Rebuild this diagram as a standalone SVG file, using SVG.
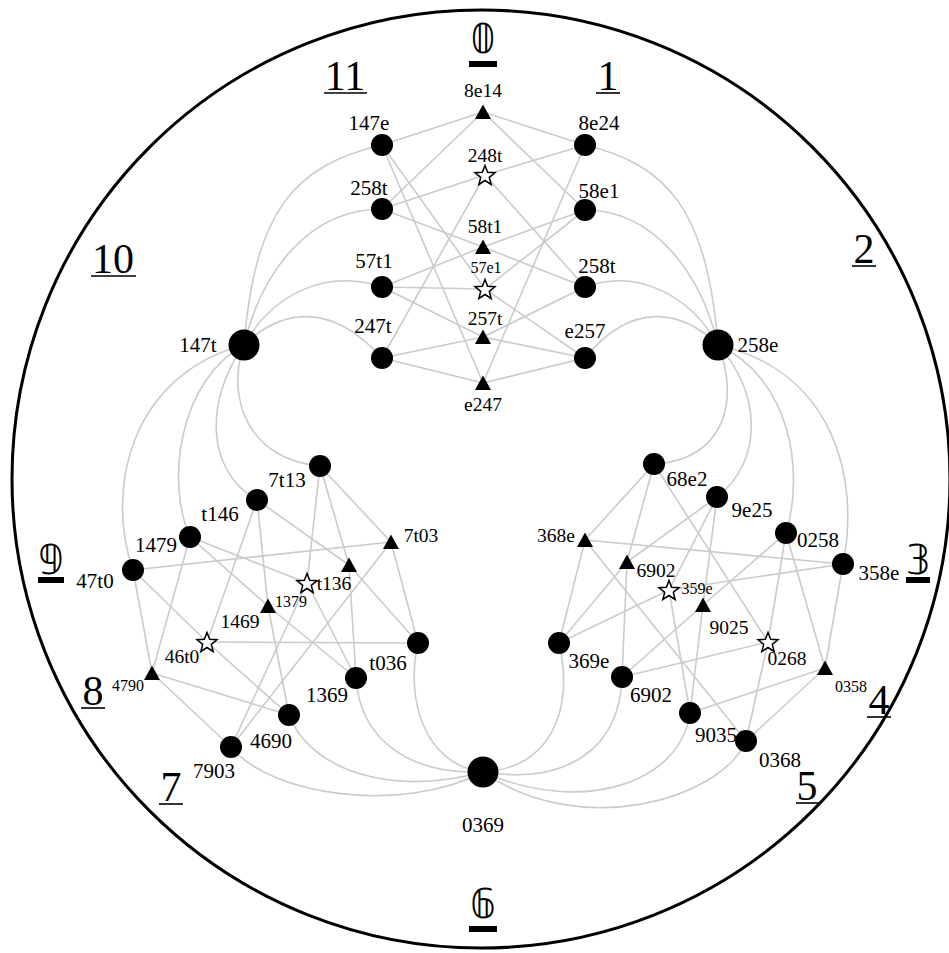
<svg xmlns="http://www.w3.org/2000/svg" width="949" height="953" viewBox="0 0 949 953">
<style>
.e{stroke:#cbcbcb;stroke-width:1.6;fill:none}
.s{fill:#fff;stroke:#000;stroke-width:1.5}
text{font-family:"Liberation Serif","Times New Roman",serif;fill:#000;text-anchor:middle}
.l{font-family:"Liberation Serif","Times New Roman",serif;font-size:21px}
.m{font-family:"Liberation Serif","Times New Roman",serif;font-size:19.5px}
.k{font-family:"Liberation Serif","Times New Roman",serif;font-size:16px}
.h{font-family:"Liberation Serif","Times New Roman",serif;font-size:42px}
.hd{font-family:"DejaVu Sans","DejaVu Serif",sans-serif;font-size:40px}
.u{stroke:#000;stroke-width:1.6}
</style>
<defs>
<path id="tri" d="M0,-8.5 L8,6 L-8,6 Z"/>
<path id="star" d="M0,-10.5 L2.645,-3.641 L9.986,-3.245 L4.280,1.391 L6.172,8.495 L0,4.5 L-6.172,8.495 L-4.280,1.391 L-9.986,-3.245 L-2.645,-3.641 Z"/>
</defs>
<rect width="949" height="953" fill="#fff"/>
<circle id="frame" cx="481" cy="479" r="469" fill="none" stroke="#000" stroke-width="3"/>

<g id="connectors" class="e">
<!-- top group -->
<line x1="483" y1="112" x2="382" y2="145"/>
<line x1="483" y1="112" x2="585" y2="145"/>
<line x1="483" y1="112" x2="382" y2="209"/>
<line x1="483" y1="112" x2="585" y2="210"/>
<line x1="485" y1="175" x2="585" y2="145"/>
<line x1="485" y1="175" x2="382" y2="209"/>
<line x1="485" y1="175" x2="585" y2="287"/>
<line x1="485" y1="175" x2="382" y2="358"/>
<line x1="483" y1="247" x2="382" y2="209"/>
<line x1="483" y1="247" x2="585" y2="210"/>
<line x1="483" y1="247" x2="382" y2="287"/>
<line x1="483" y1="247" x2="585" y2="287"/>
<line x1="485" y1="289" x2="382" y2="145"/>
<line x1="485" y1="289" x2="585" y2="210"/>
<line x1="485" y1="289" x2="382" y2="287"/>
<line x1="485" y1="289" x2="585" y2="358"/>
<line x1="483" y1="337" x2="382" y2="287"/>
<line x1="483" y1="337" x2="585" y2="287"/>
<line x1="483" y1="337" x2="382" y2="358"/>
<line x1="483" y1="337" x2="585" y2="358"/>
<line x1="483" y1="383" x2="382" y2="145"/>
<line x1="483" y1="383" x2="585" y2="145"/>
<line x1="483" y1="383" x2="382" y2="358"/>
<line x1="483" y1="383" x2="585" y2="358"/>
<!-- left cluster -->
<line x1="391" y1="542" x2="320" y2="466"/>
<line x1="391" y1="542" x2="133" y2="570"/>
<line x1="391" y1="542" x2="418" y2="643"/>
<line x1="391" y1="542" x2="231" y2="747"/>
<line x1="349" y1="565" x2="320" y2="466"/>
<line x1="349" y1="565" x2="257" y2="500"/>
<line x1="349" y1="565" x2="356" y2="678"/>
<line x1="349" y1="565" x2="418" y2="643"/>
<line x1="268" y1="606" x2="257" y2="500"/>
<line x1="268" y1="606" x2="190" y2="537"/>
<line x1="268" y1="606" x2="356" y2="678"/>
<line x1="268" y1="606" x2="289" y2="715"/>
<line x1="152" y1="673" x2="190" y2="537"/>
<line x1="152" y1="673" x2="133" y2="570"/>
<line x1="152" y1="673" x2="289" y2="715"/>
<line x1="152" y1="673" x2="231" y2="747"/>
<line x1="307" y1="583" x2="320" y2="466"/>
<line x1="307" y1="583" x2="190" y2="537"/>
<line x1="307" y1="583" x2="356" y2="678"/>
<line x1="307" y1="583" x2="231" y2="747"/>
<line x1="207" y1="642" x2="257" y2="500"/>
<line x1="207" y1="642" x2="133" y2="570"/>
<line x1="207" y1="642" x2="289" y2="715"/>
<line x1="207" y1="642" x2="418" y2="643"/>
<!-- right cluster -->
<line x1="585" y1="540" x2="654" y2="464"/>
<line x1="585" y1="540" x2="843" y2="564"/>
<line x1="585" y1="540" x2="559" y2="643"/>
<line x1="585" y1="540" x2="746" y2="741"/>
<line x1="627" y1="562" x2="654" y2="464"/>
<line x1="627" y1="562" x2="717" y2="497"/>
<line x1="627" y1="562" x2="559" y2="643"/>
<line x1="627" y1="562" x2="622" y2="677"/>
<line x1="669" y1="590" x2="717" y2="497"/>
<line x1="669" y1="590" x2="843" y2="564"/>
<line x1="669" y1="590" x2="559" y2="643"/>
<line x1="669" y1="590" x2="690" y2="713"/>
<line x1="703" y1="605" x2="717" y2="497"/>
<line x1="703" y1="605" x2="786" y2="533"/>
<line x1="703" y1="605" x2="622" y2="677"/>
<line x1="703" y1="605" x2="690" y2="713"/>
<line x1="768" y1="642" x2="654" y2="464"/>
<line x1="768" y1="642" x2="786" y2="533"/>
<line x1="768" y1="642" x2="622" y2="677"/>
<line x1="768" y1="642" x2="746" y2="741"/>
<line x1="825" y1="668" x2="786" y2="533"/>
<line x1="825" y1="668" x2="843" y2="564"/>
<line x1="825" y1="668" x2="690" y2="713"/>
<line x1="825" y1="668" x2="746" y2="741"/>
<!-- arcs from 147t -->
<path d="M244,345 C255,210 295,165 382,145"/>
<path d="M244,345 C262,270 310,209 382,209"/>
<path d="M244,345 C272,295 325,268 382,287"/>
<path d="M244,345 C280,310 330,300 382,358"/>
<path d="M244,345 C225,400 250,460 320,466"/>
<path d="M244,345 C205,400 205,470 257,500"/>
<path d="M244,345 C180,380 165,480 190,537"/>
<path d="M244,345 C130,375 105,490 133,570"/>
<!-- arcs from 258e -->
<path d="M718,345 C707,210 668,165 585,145"/>
<path d="M718,345 C700,270 652,210 585,210"/>
<path d="M718,345 C690,295 637,268 585,287"/>
<path d="M718,345 C682,310 632,300 585,358"/>
<path d="M718,345 C740,400 725,460 654,464"/>
<path d="M718,345 C760,390 765,460 717,497"/>
<path d="M718,345 C790,378 805,470 786,533"/>
<path d="M718,345 C835,372 860,480 843,564"/>
<!-- arcs to 0369 -->
<path d="M418,643 C405,700 425,765 483,772"/>
<path d="M356,678 C360,740 410,775 483,772"/>
<path d="M289,715 C310,770 390,797 483,772"/>
<path d="M231,747 C270,795 400,815 483,772"/>
<path d="M559,643 C575,710 550,768 483,772"/>
<path d="M622,677 C620,750 565,785 483,772"/>
<path d="M690,713 C680,785 580,815 483,772"/>
<path d="M746,741 C720,800 580,840 483,772"/>
</g>

<!-- top group nodes -->
<g id="n-8e14"><use href="#tri" x="483" y="113"/><text class="m" x="483" y="97">8e14</text></g>
<g id="n-147e"><circle cx="382" cy="145" r="11"/><text class="l" x="369" y="130">147e</text></g>
<g id="n-8e24"><circle cx="585" cy="145" r="11"/><text class="l" x="599" y="130">8e24</text></g>
<g id="n-248t"><use href="#star" class="s" x="485" y="176"/><text class="m" x="485" y="162">248t</text></g>
<g id="n-258t-a"><circle cx="382" cy="209" r="11"/><text class="l" x="369" y="195">258t</text></g>
<g id="n-58e1"><circle cx="585" cy="210" r="11"/><text class="l" x="599" y="198">58e1</text></g>
<g id="n-58t1"><use href="#tri" x="483" y="248"/><text class="m" x="485" y="233">58t1</text></g>
<g id="n-57t1"><circle cx="382" cy="287" r="11"/><text class="l" x="374" y="268">57t1</text></g>
<g id="n-57e1"><use href="#star" class="s" x="485" y="290"/><text class="k" x="486" y="273">57e1</text></g>
<g id="n-258t-b"><circle cx="585" cy="287" r="11"/><text class="l" x="597" y="273">258t</text></g>
<g id="n-247t"><circle cx="382" cy="358" r="11"/><text class="l" x="373" y="333">247t</text></g>
<g id="n-257t"><use href="#tri" x="483" y="338"/><text class="m" x="485" y="325">257t</text></g>
<g id="n-e257"><circle cx="585" cy="358" r="11"/><text class="l" x="585" y="338">e257</text></g>
<g id="n-e247"><use href="#tri" x="483" y="384"/><text class="m" x="483" y="411">e247</text></g>
<g id="n-147t"><circle cx="244" cy="345" r="15.5"/><text class="l" x="198" y="352">147t</text></g>
<g id="n-258e"><circle cx="718" cy="345" r="15.5"/><text class="l" x="758" y="352">258e</text></g>

<!-- left cluster nodes -->
<g id="n-7t13"><circle cx="320" cy="466" r="11"/><text class="l" x="287" y="487">7t13</text></g>
<g id="n-t146"><circle cx="257" cy="500" r="11"/><text class="l" x="220" y="521">t146</text></g>
<g id="n-1479"><circle cx="190" cy="537" r="11"/><text class="l" x="156" y="552">1479</text></g>
<g id="n-47t0"><circle cx="133" cy="570" r="11"/><text class="l" x="95" y="588">47t0</text></g>
<g id="n-7t03"><use href="#tri" x="391" y="543"/><text class="m" x="421" y="542">7t03</text></g>
<g id="n-t136"><use href="#tri" x="349" y="566"/><text class="m" x="334" y="590">t136</text></g>
<g id="n-1379"><use href="#star" class="s" x="307" y="584"/><text class="k" x="291" y="607">1379</text></g>
<g id="n-1469"><use href="#tri" x="268" y="607"/><text class="m" x="240" y="628">1469</text></g>
<g id="n-46t0"><use href="#star" class="s" x="207" y="643"/><text class="m" x="182" y="663">46t0</text></g>
<g id="n-4790"><use href="#tri" x="152" y="674"/><text class="k" x="128" y="691">4790</text></g>
<g id="n-t036"><circle cx="418" cy="643" r="11"/><text class="l" x="388" y="670">t036</text></g>
<g id="n-1369"><circle cx="356" cy="678" r="11"/><text class="l" x="327" y="702">1369</text></g>
<g id="n-4690"><circle cx="289" cy="715" r="11"/><text class="l" x="271" y="748">4690</text></g>
<g id="n-7903"><circle cx="231" cy="747" r="11"/><text class="l" x="214" y="778">7903</text></g>
<g id="n-0369"><circle cx="483" cy="772" r="15.5"/><text class="l" x="483" y="832">0369</text></g>

<!-- right cluster nodes -->
<g id="n-68e2"><circle cx="654" cy="464" r="11"/><text class="l" x="687" y="486">68e2</text></g>
<g id="n-9e25"><circle cx="717" cy="497" r="11"/><text class="l" x="752" y="517">9e25</text></g>
<g id="n-0258"><circle cx="786" cy="533" r="11"/><text class="l" x="818" y="547">0258</text></g>
<g id="n-358e"><circle cx="843" cy="564" r="11"/><text class="l" x="879" y="580">358e</text></g>
<g id="n-368e"><use href="#tri" x="585" y="541"/><text class="m" x="556" y="542">368e</text></g>
<g id="n-6902-a"><use href="#tri" x="627" y="563"/><text class="m" x="656" y="577">6902</text></g>
<g id="n-359e"><use href="#star" class="s" x="669" y="591"/><text class="k" x="697" y="594">359e</text></g>
<g id="n-9025"><use href="#tri" x="703" y="606"/><text class="m" x="729" y="634">9025</text></g>
<g id="n-0268"><use href="#star" class="s" x="768" y="643"/><text class="m" x="787" y="665">0268</text></g>
<g id="n-0358"><use href="#tri" x="825" y="669"/><text class="k" x="851" y="692">0358</text></g>
<g id="n-369e"><circle cx="559" cy="643" r="11"/><text class="l" x="589" y="668">369e</text></g>
<g id="n-6902-b"><circle cx="622" cy="677" r="11"/><text class="l" x="651" y="702">6902</text></g>
<g id="n-9035"><circle cx="690" cy="713" r="11"/><text class="l" x="716" y="742">9035</text></g>
<g id="n-0368"><circle cx="746" cy="741" r="11"/><text class="l" x="780" y="767">0368</text></g>

<!-- hour labels -->
<g id="hours">
<text class="hd" x="483" y="53">𝟘</text><rect x="469" y="61" width="28" height="6"/>
<text class="h" x="608" y="90">1</text><line class="u" x1="596" y1="93" x2="620" y2="93"/>
<text class="h" x="864" y="263">2</text><line class="u" x1="852" y1="266" x2="876" y2="266"/>
<text class="hd" x="918" y="574">𝟛</text><rect x="906" y="577" width="24" height="6"/>
<text class="h" x="879" y="714">4</text><line class="u" x1="867" y1="717" x2="891" y2="717"/>
<text class="h" x="807" y="800">5</text><line class="u" x1="796" y1="803" x2="819" y2="803"/>
<text class="hd" x="483" y="918">𝟞</text><rect x="469" y="926" width="28" height="6"/>
<text class="h" x="171" y="801">7</text><line class="u" x1="159" y1="804" x2="183" y2="804"/>
<text class="h" x="93" y="705">8</text><line class="u" x1="81" y1="708" x2="105" y2="708"/>
<text class="hd" x="51" y="574">𝟡</text><rect x="38" y="577" width="26" height="6"/>
<text class="h" x="113" y="273">10</text><line class="u" x1="91" y1="276" x2="136" y2="276"/>
<text class="h" x="345" y="90">11</text><line class="u" x1="324" y1="93" x2="367" y2="93"/>
</g>
</svg>
